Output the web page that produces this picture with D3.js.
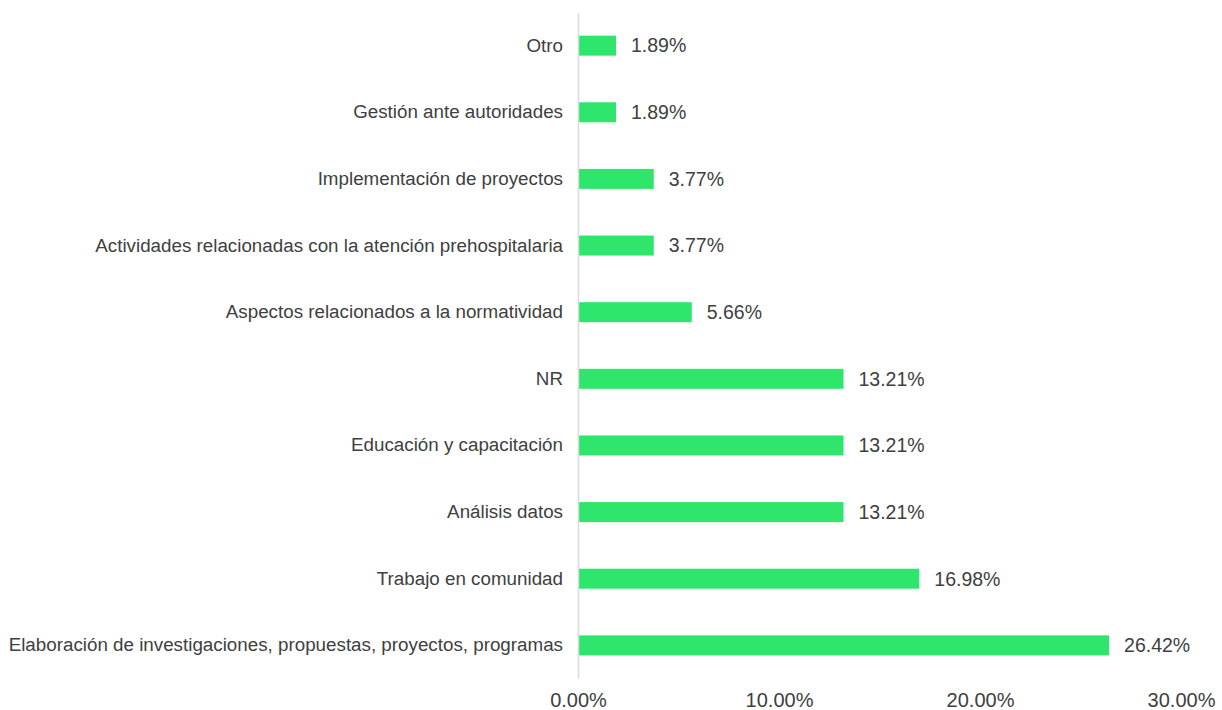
<!DOCTYPE html>
<html>
<head>
<meta charset="utf-8">
<script src="https://cdn.jsdelivr.net/npm/d3@7"></script>
<style>
  body { margin: 0; background: #fff; }
  svg { display: block; font-family: "Liberation Sans", Arial, sans-serif; }
</style>
</head>
<body>
<div id="chart-container"></div>
<script>
// datos
const categorias = [
  "Otro",
  "Gestión ante autoridades",
  "Implementación de proyectos",
  "Actividades relacionadas con la atención prehospitalaria",
  "Aspectos relacionados a la normatividad",
  "NR",
  "Educación y capacitación",
  "Análisis datos ",
  "Trabajo en comunidad",
  "Elaboración de investigaciones, propuestas, proyectos, programas"
];
const porcentajes = [1.89, 1.89, 3.77, 3.77, 5.66, 13.21, 13.21, 13.21, 16.98, 26.42];
const ticks = [0, 10, 20, 30];

const width = 1222, height = 710;
const margin = {top: 13, right: 39, bottom: 32, left: 578};
const innerWidth = width - margin.left - margin.right;
const innerHeight = height - margin.top - margin.bottom;

const data = categorias.map((c, i) => ({cat: c, val: porcentajes[i]}));

const svg = d3.select("#chart-container")
  .append("svg")
  .attr("width", width)
  .attr("height", height);

const g = svg.append("g").attr("transform", `translate(${margin.left},${margin.top})`);

const x = d3.scaleLinear().domain([0, 30]).range([0, innerWidth - 2]);
const y = d3.scaleBand().domain(categorias).range([0, innerHeight])
  .paddingInner(0.7).paddingOuter(0.34);

// barras
g.selectAll("rect")
  .data(data)
  .join("rect")
    .attr("x", 0)
    .attr("y", d => y(d.cat))
    .attr("height", y.bandwidth())
    .attr("width", d => x(d.val))
    .attr("fill", "#2ee66b");

// etiquetas de valor
g.selectAll(".val")
  .data(data)
  .join("text")
    .attr("class", "val")
    .attr("x", d => x(d.val) + 15)
    .attr("y", d => y(d.cat) + y.bandwidth() / 2)
    .attr("dy", "0.35em")
    .style("font-size", "19.5px")
    .style("fill", "#404040")
    .text(d => d.val.toFixed(2) + "%");

// eje Y
const yAxis = g.append("g").call(d3.axisLeft(y).tickSize(0).tickPadding(15));
yAxis.select(".domain").attr("stroke", "#d9d9d9").attr("stroke-width", 1.5);
yAxis.selectAll("text").style("font-size", "18.8px").style("fill", "#404040")
  .style("font-family", "'Liberation Sans', Arial, sans-serif");

// eje X (solo etiquetas)
const xAxis = g.append("g")
  .attr("transform", `translate(0,${innerHeight})`)
  .call(d3.axisBottom(x).tickValues(ticks).tickSize(0).tickPadding(15)
    .tickFormat(d => d.toFixed(2) + "%"));
xAxis.select(".domain").remove();
xAxis.selectAll("text").style("font-size", "20px").style("fill", "#404040")
  .style("font-family", "'Liberation Sans', Arial, sans-serif");
</script>
</body>
</html>
